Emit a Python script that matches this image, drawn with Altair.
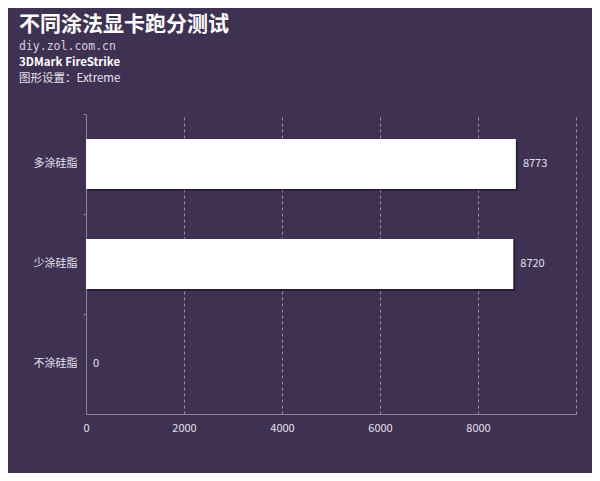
import altair as alt
import pandas as pd

categories = ["多涂硅脂", "少涂硅脂", "不涂硅脂"]
scores = [8773, 8720, 0]
x_ticks = [0, 2000, 4000, 6000, 8000, 10000]

title_text = "不同涂法显卡跑分测试"
sub1 = "diy.zol.com.cn"
sub2 = "3DMark FireStrike"
sub3 = "图形设置：Extreme"

BG = "#3f3152"
AXIS = "#8c8298"
LABEL = "#e4e0ec"
FONT = "Noto Sans CJK SC"

df = pd.DataFrame({"cat": categories, "score": scores})

y_enc = alt.Y(
    "cat:N",
    sort=None,
    title=None,
    scale=alt.Scale(paddingInner=0, paddingOuter=0),
    axis=alt.Axis(
        bandPosition=0,
        labelFontSize=11,
        labelColor=LABEL,
        labelFont=FONT,
        labelPadding=6,
        tickSize=3,
        tickColor=AXIS,
        domainColor=AXIS,
        grid=False,
    ),
)
x_enc = alt.X(
    "score:Q",
    title=None,
    scale=alt.Scale(domain=[0, 10000], nice=False),
    axis=alt.Axis(
        values=x_ticks,
        labelExpr="datum.value >= 10000 ? '' : datum.label",
        format="d",
        labelFlush=False,
        labelFontSize=11,
        labelColor=LABEL,
        labelFont=FONT,
        labelPadding=8,
        ticks=False,
        domainColor=AXIS,
        grid=True,
        gridColor="#9a90aa",
        gridDash=[3, 3],
        gridWidth=1,
    ),
)

base = alt.Chart(df)

shadow = base.mark_bar(
    color="#1c1426", opacity=0.6, height={"band": 0.5}, xOffset=2, yOffset=2
).encode(x=x_enc, y=y_enc)

bars = base.mark_bar(color="#ffffff", height={"band": 0.5}).encode(x=x_enc, y=y_enc)

labels = base.mark_text(
    align="left", baseline="middle", dx=7, fontSize=11, color=LABEL, font=FONT
).encode(x=x_enc, y=y_enc, text="score:Q")


def txt(s, x, y, size, weight="normal", color="#ffffff", font=FONT):
    return (
        alt.Chart(pd.DataFrame({"t": [s]}))
        .mark_text(
            align="left",
            baseline="middle",
            fontSize=size,
            fontWeight=weight,
            color=color,
            font=font,
        )
        .encode(text="t:N", x=alt.value(x), y=alt.value(y))
    )


t0 = txt(title_text, -67, -89, 21, "bold")
t1 = txt(sub1, -67, -67, 11.5, "normal", "#d6d2de", "DejaVu Sans Mono")
t2 = txt(sub2, -67, -51, 11.5, "bold", "#ffffff")
t3 = txt(sub3, -67, -35, 11.5, "normal", "#e8e4ee")

chart = (
    alt.layer(shadow, bars, labels, t0, t1, t2, t3)
    .properties(
        width=490,
        height=300,
        background=BG,
        autosize=alt.AutoSizeParams(type="none"),
        padding={"left": 78, "top": 106, "right": 16, "bottom": 59},
    )
    .configure_view(stroke=None)
)

chart.save("out.html", embed_options={"renderer": "svg", "actions": False})
